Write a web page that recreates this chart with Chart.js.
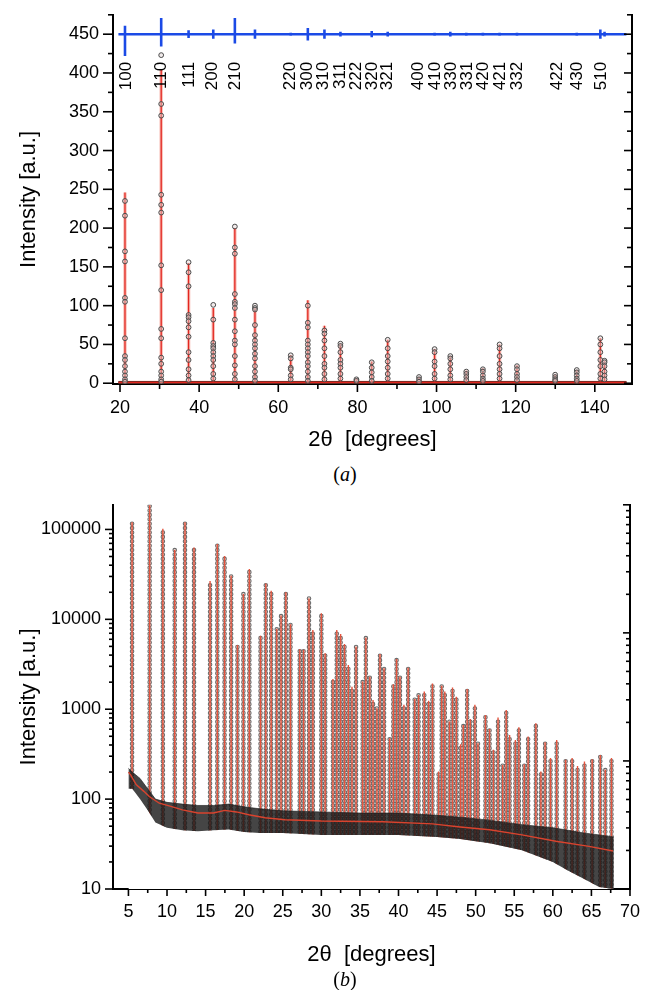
<!DOCTYPE html>
<html>
<head>
<meta charset="utf-8">
<script src="https://cdn.jsdelivr.net/npm/chart.js@4.4.1/dist/chart.umd.min.js"></script>
<style>
html, body { margin: 0; padding: 0; background: #fff; }
#wrap { position: relative; width: 645px; height: 990px; overflow: hidden; }
canvas { position: absolute; left: 0; }
#cA { top: 0; }
#cB { top: 490px; }
.cap { position: absolute; left: 295px; width: 100px; text-align: center;
       font: 20px "Liberation Serif", "Times New Roman", serif; line-height: 20px; color: #000; }
</style>
</head>
<body>
<div id="wrap">
  <canvas id="cA" width="645" height="460"></canvas>
  <div class="cap" style="top:464px">(<i>a</i>)</div>
  <canvas id="cB" width="645" height="480"></canvas>
  <div class="cap" style="top:969px">(<i>b</i>)</div>
</div>
<script>
// ---------- (a) linear plot ----------
const rangeA = [19.6, 148.0];        // first / last measured 2theta
const baseA = 1;                     // background level
const diffOffset = 450;              // difference curve is shifted up by this
const peakPosA = [21.26, 30.41, 37.33, 43.57, 49.03, 54.11, 63.15, 67.47, 71.67, 75.71, 79.75, 83.62,
                  87.66, 95.57, 99.51, 103.48, 107.52, 111.71, 115.93, 120.33, 129.98, 135.44, 141.40, 142.46];
const calcTopA = [246, 405, 155, 97, 200, 97, 36, 107, 74, 51, 6, 28,
                  56, 8, 44, 35, 16, 19, 50, 23, 11, 17, 58, 29];
const obsA = [
  [235, 216, 170, 157, 110, 105, 58, 35, 30, 22, 15, 10, 5, 2],
  [423, 360, 345, 243, 230, 220, 152, 120, 70, 58, 33, 25, 15, 10, 5, 2],
  [156, 143, 125, 88, 85, 80, 72, 60, 40, 30, 18, 10, 4],
  [101, 82, 52, 48, 45, 40, 35, 30, 22, 12, 6],
  [202, 175, 167, 115, 105, 102, 97, 82, 67, 55, 50, 35, 23, 12, 5],
  [100, 97, 95, 75, 62, 55, 50, 45, 38, 32, 22, 15, 8, 3],
  [36, 32, 20, 18, 10, 5],
  [100, 78, 72, 55, 50, 45, 40, 35, 27, 22, 15, 8, 3],
  [68, 64, 55, 45, 35, 25, 20, 12, 5],
  [51, 48, 40, 30, 25, 20, 12, 6],
  [5, 3],
  [27, 20, 14, 8, 3],
  [56, 45, 35, 28, 20, 12, 6],
  [8, 5, 2],
  [44, 40, 28, 22, 12, 6],
  [35, 32, 25, 18, 10, 5],
  [15, 12, 8, 4],
  [18, 15, 10, 6, 3],
  [50, 45, 35, 25, 18, 12, 6],
  [22, 18, 12, 8, 4],
  [11, 8, 5, 3],
  [17, 14, 10, 6, 3],
  [58, 50, 40, 30, 22, 12, 6],
  [29, 27, 22, 15, 10, 5]
];
const diffHiA = [461, 471, 455, 456, 471, 456, 452, 458, 456, 453, 451, 454,
                 453, 451, 452, 453, 452, 452, 452, 452, 451, 452, 456, 453];
const diffLoA = [422, 434, 445, 444, 438, 444, 448, 442, 444, 447, 449, 446,
                 447, 449, 448, 447, 448, 448, 448, 448, 449, 448, 444, 447];
const hklLabels = ['100', '110', '111', '200', '210', '220', '300', '310', '311', '222', '320', '321',
                   '400', '410', '330', '331', '420', '421', '332', '422', '430', '510'];
const hklPos = [21.5, 30.4, 37.45, 43.3, 49.05, 62.95, 67.4, 71.4, 75.75, 79.8, 83.75, 87.65,
                95.45, 99.65, 103.65, 107.7, 111.85, 116.1, 120.3, 130.4, 135.6, 141.7];

// ---------- (b) log plot ----------
const yMinB = 10;
const peakPosB = [5.47, 7.75, 9.46, 11.0, 12.33, 13.5, 15.58, 16.52, 17.46, 18.31, 19.13, 19.9, 20.67,
  22.12, 22.8, 23.5, 24.22, 24.78, 25.4, 26.0, 27.2, 27.7, 28.4, 28.9, 30.0, 30.5, 31.5, 32.0, 32.5,
  33.0, 33.5, 33.97, 34.5, 35.35, 35.77, 36.28, 36.7, 37.2, 37.6, 38.13, 38.85, 39.33, 39.75, 40.19,
  40.7, 41.25, 42.1, 42.6, 43.34, 43.9, 44.4, 45.2, 45.6, 46.0, 46.6, 47.0, 47.5, 48.05, 48.4, 48.9,
  49.3, 49.9, 50.3, 51.27, 51.8, 52.3, 52.9, 53.5, 53.96, 54.4, 55.15, 55.6, 56.3, 56.8, 57.8, 58.45,
  59.0, 59.7, 60.5, 61.66, 62.5, 63.2, 64.1, 65.1, 66.15, 66.8, 67.6];
const peakTopB = [120000, 186000, 102000, 59000, 120000, 63000, 26700, 68700, 50500, 30500, 5170, 19100, 36200,
  6580, 25100, 20800, 7800, 11000, 20000, 8800, 4650, 4600, 17100, 7600, 11650, 4190, 2170, 7600, 6870,
  5320, 3110, 1780, 4970, 2030, 6250, 2300, 1270, 1025, 4110, 2860, 476, 1900, 3620, 2300,
  1120, 2900, 1300, 1440, 1570, 1240, 1930, 203, 1830, 1570, 728, 1740, 1380, 408, 668, 1680,
  780, 1120, 418, 865, 604, 353, 807, 240, 982, 517, 456, 630, 245, 496, 698, 203,
  430, 286, 456, 274, 286, 234, 262, 278, 310, 212, 286];
const bgXB = [5.0, 5.3, 6, 7, 7.7, 9, 10.5, 12, 14, 16, 17.5, 19, 20.6, 22.7, 25.3, 30, 38, 44.4, 48, 51.8, 56, 60.4, 64.7, 67.8];
const bgYB = [200, 185, 145, 122, 107, 90, 83, 76, 70, 70, 75, 72, 67, 62, 59, 57, 56, 53, 49, 45.6, 40, 34, 29.8, 26.5];
const noiseXB = [5.0, 5.5, 6.5, 7.5, 8.5, 10, 12, 14, 16, 18, 20, 22, 25, 30, 35, 40, 45, 48, 52, 56, 60, 62, 64, 66, 67.9];
const noiseHiB = [220, 200, 170, 130, 100, 92, 88, 85, 85, 88, 82, 78, 74, 72, 70, 70, 66, 63, 58, 52, 48, 45, 42, 40, 38];
const noiseLoB = [130, 130, 100, 75, 55, 48, 45, 44, 45, 46, 43, 42, 42, 40, 40, 40, 38, 36, 32, 27, 20, 16, 13, 10.5, 10];

Chart.defaults.font.family = '"Liberation Sans", Arial, sans-serif';
Chart.defaults.color = '#000';

// tick marks drawn by hand so major/minor and in/out can differ
const tickSpec = {
  cA: { x: {side: 'bottom', out: true, major: 20, long: 8, short: 5},
        y: {side: 'left', out: true, major: 50, long: 10, short: 5},
        yr: {side: 'right', out: false, major: 50, long: 8, short: 5} },
  cB: { x: {side: 'bottom', out: true, major: 5, long: 7, short: 4},
        y: {side: 'left', out: true, log: true, long: 8, short: 4},
        yr: {side: 'right', out: false, log: true, long: 7, short: 4} }
};
const tickMarks = {
  id: 'tickMarks',
  afterDraw(chart) {
    const spec = tickSpec[chart.canvas.id];
    const ctx = chart.ctx, a = chart.chartArea;
    ctx.save();
    ctx.strokeStyle = '#000';
    ctx.lineWidth = 1.6;
    Object.keys(spec).forEach(id => {
      const s = chart.scales[id], c = spec[id];
      s.ticks.forEach(t => {
        const v = t.value;
        let major;
        if (c.log) {
          const e = Math.floor(Math.log10(v) + 1e-9);
          const m = v / Math.pow(10, e);
          if (Math.abs(m - Math.round(m)) > 1e-6) return;
          major = Math.round(m) === 1;
        } else {
          major = Math.abs(v / c.major - Math.round(v / c.major)) < 1e-6;
        }
        const len = major ? c.long : c.short;
        const d = c.out ? 1 : -1;
        const p = s.getPixelForValue(v);
        ctx.beginPath();
        if (c.side === 'bottom') { ctx.moveTo(p, a.bottom); ctx.lineTo(p, a.bottom + d * len); }
        else if (c.side === 'left') { ctx.moveTo(a.left, p); ctx.lineTo(a.left - d * len, p); }
        else { ctx.moveTo(a.right, p); ctx.lineTo(a.right + d * len, p); }
        ctx.stroke();
      });
    });
    ctx.restore();
  }
};

// hkl labels, vertical text hanging from near the top of panel (a)
const hklPlugin = {
  id: 'hkl',
  afterDatasetsDraw(chart) {
    const ctx = chart.ctx, xs = chart.scales.x, top = chart.chartArea.top + 47;
    ctx.save();
    ctx.fillStyle = '#000';
    ctx.font = '17px "Liberation Sans", Arial, sans-serif';
    ctx.textAlign = 'right';
    ctx.textBaseline = 'middle';
    hklLabels.forEach((lab, i) => {
      ctx.save();
      ctx.translate(xs.getPixelForValue(hklPos[i]), top);
      ctx.rotate(-Math.PI / 2);
      ctx.fillText(lab, 0, 0);
      ctx.restore();
    });
    ctx.restore();
  }
};

const border = {display: true, color: '#000', width: 2};
const grid = len => ({display: true, drawOnChartArea: false, drawTicks: true, tickLength: len, tickColor: 'rgba(0,0,0,0)'});

// ----- build panel (a) data -----
const diffData = [{x: rangeA[0], y: diffOffset}];
const calcData = [{x: rangeA[0], y: baseA}];
const obsPts = [];
peakPosA.forEach((p, i) => {
  diffData.push({x: p, y: diffOffset}, {x: p, y: diffHiA[i]}, {x: p, y: diffLoA[i]}, {x: p, y: diffOffset});
  calcData.push({x: p, y: baseA}, {x: p, y: calcTopA[i]}, {x: p, y: baseA});
  obsA[i].forEach(v => obsPts.push({x: p, y: v}));
});
diffData.push({x: rangeA[1], y: diffOffset});
calcData.push({x: rangeA[1], y: baseA});

new Chart(document.getElementById('cA'), {
  type: 'scatter',
  data: {
    datasets: [
      {data: obsPts, pointRadius: 2.4, borderWidth: 1, pointBorderColor: '#4a4a4a',
       pointBackgroundColor: 'rgba(225,210,210,0.45)', order: 1},
      {data: calcData, showLine: true, pointRadius: 0, borderColor: '#e3261f', borderWidth: 1.3, order: 2},
      {data: calcData, showLine: true, pointRadius: 0, borderColor: 'rgba(235,80,60,0.35)', borderWidth: 3.5, order: 3},
      {data: [{x: rangeA[0], y: baseA}, {x: rangeA[1], y: baseA}], showLine: true, pointRadius: 0,
       borderColor: '#1e1e1e', borderWidth: 2.8, order: 4},
      {data: diffData, showLine: true, pointRadius: 0, borderColor: '#1b4ae6', borderWidth: 2.6, order: 5}
    ]
  },
  options: {
    responsive: false, animation: false, events: [],
    layout: {padding: {top: 1, left: 0, right: 0, bottom: 0}},
    plugins: {legend: {display: false}, tooltip: {enabled: false}},
    scales: {
      x: {
        type: 'linear', min: 18.23, max: 149.4,
        ticks: {stepSize: 10, includeBounds: false, autoSkip: false, maxRotation: 0, padding: 5,
                font: {size: 18}, callback: v => (v % 20 === 0 ? String(v) : '')},
        grid: grid(8), border: border,
        title: {display: true, text: '2θ  [degrees]', font: {size: 22, lineHeight: 1}, padding: {top: 0, bottom: 9}},
        afterFit: s => { s.height = 76; }
      },
      y: {
        type: 'linear', min: -1, max: 475,
        ticks: {stepSize: 25, includeBounds: false, autoSkip: false, padding: 4,
                font: {size: 18}, callback: v => (v % 50 === 0 ? String(v) : '')},
        grid: grid(10), border: border,
        title: {display: true, text: 'Intensity [a.u.]', font: {size: 22, lineHeight: 1}, padding: {top: 18, bottom: 0}},
        afterFit: s => { s.width = 113; }
      },
      yr: {
        type: 'linear', position: 'right', min: -1, max: 475,
        ticks: {display: false, stepSize: 25, includeBounds: false, autoSkip: false},
        grid: {display: true, drawOnChartArea: false, drawTicks: false}, border: border,
        afterFit: s => { s.width = 13; }
      }
    }
  },
  plugins: [tickMarks, hklPlugin]
});

// ----- build panel (b) data -----
const sticks = [];
peakPosB.forEach((p, i) => { sticks.push({x: p, y: yMinB}, {x: p, y: peakTopB[i]}, {x: p, y: null}); });
const bgData = bgXB.map((x, i) => ({x: x, y: bgYB[i]}));
const loData = noiseXB.map((x, i) => ({x: x, y: noiseLoB[i]}));
const hiData = noiseXB.map((x, i) => ({x: x, y: noiseHiB[i]}));

new Chart(document.getElementById('cB'), {
  type: 'scatter',
  data: {
    datasets: [
      {data: sticks, showLine: true, pointRadius: 0, borderColor: '#6b6b6b', borderWidth: 4.6,
       borderDash: [0.001, 4.4], borderCapStyle: 'round', order: 10},
      {data: sticks, showLine: true, pointRadius: 0, borderColor: '#efd9d3', borderWidth: 2.4,
       borderDash: [0.001, 4.4], borderCapStyle: 'round', order: 9},
      {data: sticks, showLine: true, pointRadius: 0, borderColor: '#e4553f', borderWidth: 1.4, order: 8},
      {data: loData, showLine: true, pointRadius: 0, borderWidth: 0, fill: 'start', backgroundColor: '#fff', order: 7},
      {data: hiData, showLine: true, pointRadius: 0, borderWidth: 0.8, borderColor: 'rgba(30,30,30,0.8)',
       fill: 3, backgroundColor: 'rgba(22,22,22,0.8)', order: 6},
      {data: bgData, showLine: true, pointRadius: 0, borderColor: '#d9432e', borderWidth: 1.4, order: 1}
    ]
  },
  options: {
    responsive: false, animation: false, events: [],
    layout: {padding: {top: 14, left: 0, right: 0, bottom: 0}},
    plugins: {legend: {display: false}, tooltip: {enabled: false}},
    scales: {
      x: {
        type: 'linear', min: 3.0, max: 70,
        ticks: {stepSize: 2.5, includeBounds: false, autoSkip: false, maxRotation: 0, padding: 5,
                font: {size: 18}, callback: v => (v % 5 === 0 ? String(v) : '')},
        grid: grid(7), border: border,
        title: {display: true, text: '2θ  [degrees]', font: {size: 22, lineHeight: 1}, padding: {top: 0, bottom: 4}},
        afterFit: s => { s.height = 81; }
      },
      y: {
        type: 'logarithmic', min: yMinB, max: 188000,
        ticks: {autoSkip: false, padding: 4, font: {size: 18},
                callback: v => { const e = Math.log10(v); return Math.abs(e - Math.round(e)) < 1e-9 ? String(v) : ''; }},
        grid: grid(8), border: border,
        title: {display: true, text: 'Intensity [a.u.]', font: {size: 22, lineHeight: 1}, padding: {top: 18, bottom: 0}},
        afterFit: s => { s.width = 113; }
      },
      yr: {
        type: 'logarithmic', position: 'right', min: 10, max: 10000,
        ticks: {display: false, autoSkip: false},
        grid: {display: true, drawOnChartArea: false, drawTicks: false}, border: border,
        afterFit: s => { s.width = 11; }
      }
    }
  },
  plugins: [tickMarks]
});
</script>
</body>
</html>
